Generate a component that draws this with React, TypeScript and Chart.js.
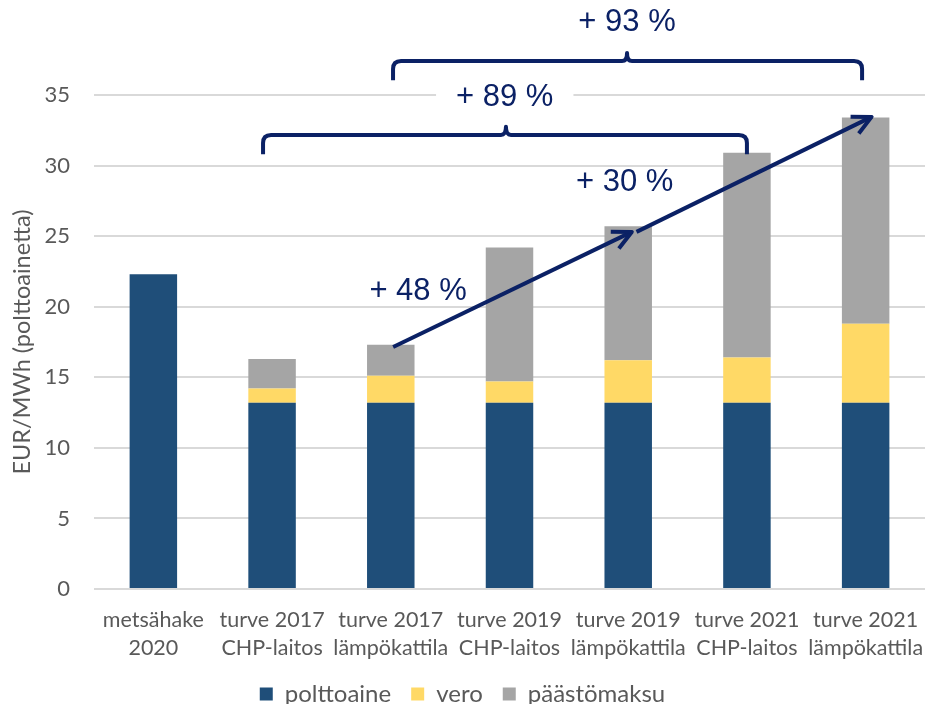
import React, { useEffect, useRef } from 'react';
import { Chart, registerables } from 'chart.js';

Chart.register(...registerables);

// ---- data ----
const categories: string[][] = [
  ['metsähake', '2020'],
  ['turve 2017', 'CHP-laitos'],
  ['turve 2017', 'lämpökattila'],
  ['turve 2019', 'CHP-laitos'],
  ['turve 2019', 'lämpökattila'],
  ['turve 2021', 'CHP-laitos'],
  ['turve 2021', 'lämpökattila'],
];
const polttoaine = [22.3, 13.2, 13.2, 13.2, 13.2, 13.2, 13.2];
const vero = [0, 1.0, 1.9, 1.5, 3.0, 3.2, 5.6];
const paastomaksu = [0, 2.1, 2.2, 9.5, 9.5, 14.5, 14.6];
const seriesNames = ['polttoaine', 'vero', 'päästömaksu'];
const yMax = 35;
const yStep = 5;
const yTitle = 'EUR/MWh (polttoainetta)';

// annotation texts and their anchors in data coordinates (category index, value)
const percentLabels = [
  { text: '+ 93 %', x: 3.99, y: 40.15, bg: false },
  { text: '+ 89 %', x: 2.96, y: 34.8, bg: true },
  { text: '+ 30 %', x: 3.97, y: 28.8, bg: false },
  { text: '+ 48 %', x: 2.23, y: 21.1, bg: false },
];
const braces = [
  { x0: 0.924, x1: 5.0, xm: 2.97, yEnd: 30.8, yLine: 32.17, yPeak: 32.75 },
  { x0: 2.019, x1: 5.97, xm: 3.99, yEnd: 36.05, yLine: 37.41, yPeak: 37.98 },
];
const arrows = [
  { x0: 2.02, y0: 17.15, x1: 4.03, y1: 25.3 },
  { x0: 4.07, y0: 25.3, x1: 6.05, y1: 33.45 },
];

const COLORS = ['#1F4E79', '#FFD966', '#A5A5A5'];
const NAVY = '#0B2165';
const TEXT_GRAY = '#595959';
const FONT = "Lato, 'Open Sans', sans-serif";

const annotationPlugin = {
  id: 'annotations',
  afterDraw(chart: any) {
    const { ctx } = chart;
    const xs = chart.scales.x;
    const ys = chart.scales.y;
    const px = (v: number) => xs.getPixelForValue(v);
    const py = (v: number) => ys.getPixelForValue(v);
    ctx.save();
    ctx.font = `31px 'Liberation Sans', Arial, sans-serif`;
    ctx.textAlign = 'center';
    ctx.textBaseline = 'middle';
    percentLabels.forEach((l) => {
      if (!l.bg) return;
      const w = ctx.measureText(l.text).width;
      ctx.fillStyle = '#ffffff';
      ctx.fillRect(px(l.x) - w / 2 - 20, py(l.y) - 12, w + 40, 24);
    });
    ctx.strokeStyle = NAVY;
    ctx.lineWidth = 4;
    ctx.lineJoin = 'round';
    ctx.lineCap = 'butt';
    braces.forEach((b) => {
      const x0 = px(b.x0), x1 = px(b.x1), xm = px(b.xm);
      const yE = py(b.yEnd), yL = py(b.yLine), yP = py(b.yPeak);
      const r = 8;
      const m = 5;
      ctx.beginPath();
      ctx.moveTo(x0, yE);
      ctx.lineTo(x0, yL + r);
      ctx.quadraticCurveTo(x0, yL, x0 + r, yL);
      ctx.lineTo(xm - m, yL);
      ctx.quadraticCurveTo(xm, yL, xm, yP);
      ctx.quadraticCurveTo(xm, yL, xm + m, yL);
      ctx.lineTo(x1 - r, yL);
      ctx.quadraticCurveTo(x1, yL, x1, yL + r);
      ctx.lineTo(x1, yE);
      ctx.stroke();
    });
    arrows.forEach((a) => {
      const x0 = px(a.x0), y0 = py(a.y0), x1 = px(a.x1), y1 = py(a.y1);
      ctx.beginPath();
      ctx.moveTo(x0, y0);
      ctx.lineTo(x1, y1);
      ctx.stroke();
      const ang = Math.atan2(y1 - y0, x1 - x0);
      const len = 21;
      const spread = 0.46;
      ctx.beginPath();
      ctx.moveTo(x1 + len * Math.cos(ang + Math.PI - spread), y1 + len * Math.sin(ang + Math.PI - spread));
      ctx.lineTo(x1, y1);
      ctx.lineTo(x1 + len * Math.cos(ang + Math.PI + spread), y1 + len * Math.sin(ang + Math.PI + spread));
      ctx.stroke();
    });
    ctx.fillStyle = NAVY;
    percentLabels.forEach((l) => {
      ctx.fillText(l.text, px(l.x), py(l.y));
    });
    ctx.restore();
  },
};

export default function App() {
  const canvasRef = useRef<HTMLCanvasElement | null>(null);

  useEffect(() => {
    let chart: Chart | null = null;
    let cancelled = false;
    const build = () => {
      if (cancelled || !canvasRef.current) return;
      const values = [polttoaine, vero, paastomaksu];
      chart = new Chart(canvasRef.current, {
        type: 'bar',
        data: {
          labels: categories,
          datasets: seriesNames.map((name, i) => ({
            label: name,
            data: values[i],
            backgroundColor: COLORS[i],
            borderWidth: 0,
            categoryPercentage: 1,
            barPercentage: 0.4,
          })),
        },
        options: {
          animation: false,
          responsive: false,
          maintainAspectRatio: false,
          layout: { padding: { top: 95, right: 2, left: 0, bottom: 0 } },
          plugins: {
            legend: {
              position: 'bottom',
              labels: {
                boxWidth: 13,
                boxHeight: 13,
                padding: 20,
                color: TEXT_GRAY,
                font: { family: FONT, size: 24 },
              },
            },
            tooltip: { enabled: false },
          },
          scales: {
            x: {
              stacked: true,
              grid: { display: false, drawTicks: false },
              border: { display: false },
              ticks: {
                color: TEXT_GRAY,
                font: { family: FONT, size: 21.5, lineHeight: 1.3 },
                padding: 17,
                maxRotation: 0,
                autoSkip: false,
              },
              afterFit(scale: any) {
                scale.height = 73;
                scale.paddingLeft = 0;
                scale.paddingRight = 0;
              },
            },
            y: {
              stacked: true,
              min: 0,
              max: yMax,
              ticks: {
                stepSize: yStep,
                color: TEXT_GRAY,
                font: { family: FONT, size: 22 },
                padding: 24,
              },
              grid: { color: '#D9D9D9', lineWidth: 2, drawTicks: false },
              border: { display: false },
              title: {
                display: true,
                text: yTitle,
                color: TEXT_GRAY,
                font: { family: FONT, size: 23.5 },
                padding: { top: 8, bottom: 0 },
              },
              afterFit(scale: any) {
                scale.width = 94;
              },
            },
          },
        },
        plugins: [annotationPlugin],
      });
    };
    const fonts: any = (document as any).fonts;
    if (fonts && fonts.load) {
      Promise.all([
        fonts.load('21px Lato'),
        fonts.load("31px 'Liberation Sans'"),
      ]).then(build, build);
    } else {
      build();
    }
    return () => {
      cancelled = true;
      if (chart) chart.destroy();
    };
  }, []);

  return (
    <div style={{ position: 'fixed', left: 0, top: 0, width: 927, height: 704, overflow: 'hidden', background: '#fff' }}>
      <canvas ref={canvasRef} width={927} height={716} style={{ width: 927, height: 716, display: 'block' }} />
    </div>
  );
}
